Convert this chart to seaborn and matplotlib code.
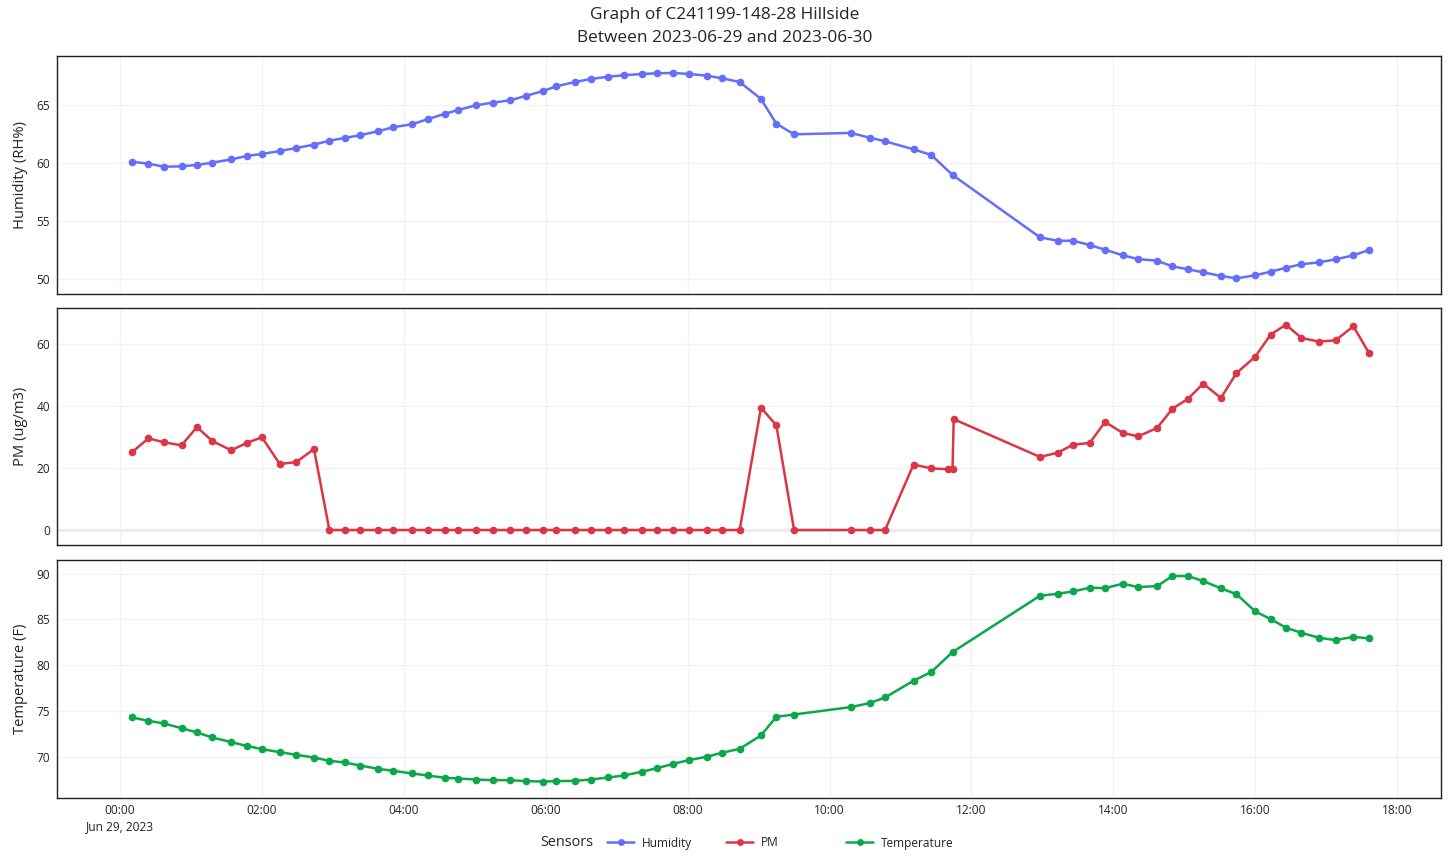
import matplotlib
matplotlib.use("Agg")
import matplotlib.pyplot as plt
import matplotlib.dates as mdates
from matplotlib.lines import Line2D
import seaborn as sns
import pandas as pd

# ---------------- data ----------------
day = "2023-06-29 "
times_main = ["00:10","00:24","00:37","00:52","01:05","01:18","01:34","01:47","02:00","02:15",
              "02:29","02:44","02:57","03:10","03:23","03:38","03:51","04:07","04:20","04:35",
              "04:46","05:01","05:15","05:30","05:43","05:58","06:09","06:25","06:38","06:53",
              "07:06","07:21","07:34","07:48","08:01","08:16","08:29","08:44","09:02","09:15",
              "09:30","10:18","10:34","10:47","11:11","11:26","11:44","12:58","13:13","13:26",
              "13:40","13:53","14:08","14:21","14:37","14:50","15:03","15:16","15:31","15:44",
              "16:00","16:13","16:26","16:39","16:54","17:08","17:23","17:36"]

humidity = [60.11,59.94,59.68,59.71,59.83,60.03,60.31,60.60,60.78,61.03,
            61.29,61.58,61.92,62.16,62.39,62.73,63.08,63.34,63.77,64.25,
            64.57,64.97,65.20,65.40,65.78,66.21,66.61,66.98,67.24,67.44,
            67.56,67.67,67.73,67.76,67.67,67.53,67.30,66.98,65.52,63.39,
            62.47,62.59,62.18,61.87,61.18,60.69,58.97,53.59,53.30,53.30,
            52.93,52.53,52.04,51.72,51.58,51.09,50.84,50.58,50.26,50.06,
            50.32,50.63,50.97,51.27,51.44,51.70,52.04,52.50]

temperature = [74.30,73.93,73.64,73.13,72.66,72.11,71.60,71.20,70.84,70.51,
               70.22,69.92,69.56,69.38,69.05,68.69,68.47,68.18,67.96,67.70,
               67.63,67.52,67.45,67.45,67.34,67.30,67.34,67.38,67.52,67.74,
               67.96,68.36,68.76,69.23,69.64,70.00,70.44,70.87,72.33,74.37,
               74.62,75.43,75.87,76.48,78.31,79.26,81.44,87.60,87.81,88.07,
               88.47,88.43,88.91,88.54,88.65,89.75,89.75,89.20,88.40,87.78,
               85.88,85.05,84.10,83.55,83.00,82.75,83.11,82.93]

times_pm = ["00:10","00:24","00:37","00:52","01:05","01:18","01:34","01:47","02:00","02:15",
            "02:29","02:44","02:57","03:10","03:23","03:38","03:51","04:07","04:20","04:35",
            "04:46","05:01","05:15","05:30","05:43","05:58","06:09","06:25","06:38","06:53",
            "07:06","07:21","07:34","07:48","08:01","08:16","08:29","08:44","09:02","09:15",
            "09:30","10:18","10:34","10:47","11:11","11:26","11:40","11:44","11:45","12:58",
            "13:13","13:26","13:40","13:53","14:08","14:21","14:37","14:50","15:03","15:16",
            "15:31","15:44","16:00","16:13","16:26","16:39","16:54","17:08","17:23","17:36"]

pm = [25.06,29.57,28.28,27.31,33.20,28.70,25.70,28.06,29.90,21.30,
      21.90,26.10,0,0,0,0,0,0,0,0,
      0,0,0,0,0,0,0,0,0,0,
      0,0,0,0,0,0,0,0,39.46,33.76,
      0,0,0,0,21.10,19.90,19.57,19.57,35.75,23.55,
      24.95,27.53,28.06,34.84,31.29,30.22,32.90,39.14,42.26,47.20,
      42.58,50.54,55.91,63.00,66.24,61.94,60.75,61.19,65.70,57.20]

series_names = ["Humidity", "PM", "Temperature"]
y_labels = ["Humidity (RH%)", "PM (ug/m3)", "Temperature (F)"]
y_ticks = [[50, 55, 60, 65], [0, 20, 40, 60], [70, 75, 80, 85, 90]]
y_limits = [(48.71, 69.22), (-4.84, 71.6), (65.5, 91.5)]
x_ticks = ["00:00","02:00","04:00","06:00","08:00","10:00","12:00","14:00","16:00","18:00"]
colors = ["#636EFA", "#DC3545", "#0AA84A"]
title = "Graph of C241199-148-28 Hillside\nBetween 2023-06-29 and 2023-06-30"
date_label = "Jun 29, 2023"
legend_title = "Sensors"

# ---------------- build frames ----------------
t_main = pd.to_datetime([day + t for t in times_main])
t_pm = pd.to_datetime([day + t for t in times_pm])
frames = [
    pd.DataFrame({"time": t_main, "value": humidity}),
    pd.DataFrame({"time": t_pm, "value": pm}),
    pd.DataFrame({"time": t_main, "value": temperature}),
]

sns.set_theme(style="white")
plt.rcParams["font.family"] = ["Open Sans", "DejaVu Sans"]
TXT = "#242424"

W, H = 1450, 857
fig = plt.figure(figsize=(W / 100, H / 100), dpi=100)

panels = [(56, 294), (308, 545), (560, 798)]
left_px, right_px = 57, 1441
x_lo = pd.Timestamp("2023-06-28 23:06:40")
x_hi = pd.Timestamp("2023-06-29 18:37:06")
tick_pos = pd.to_datetime([day + t for t in x_ticks])

axes = []
for i, (top, bot) in enumerate(panels):
    ax = fig.add_axes([left_px / W, 1 - bot / H, (right_px - left_px) / W, (bot - top) / H])
    axes.append(ax)
    sns.lineplot(data=frames[i], x="time", y="value", ax=ax, color=colors[i],
                 marker="o", markersize=5.5, markeredgewidth=0, linewidth=1.8,
                 markeredgecolor=colors[i], estimator=None, sort=False)
    ax.set_xlim(x_lo, x_hi)
    ax.set_ylim(*y_limits[i])
    ax.set_yticks(y_ticks[i])
    ax.set_xticks(tick_pos)
    ax.grid(True, color="#f2f2f2", linewidth=1)
    ax.set_axisbelow(True)
    if i == 1:
        ax.axhline(0, color="#e6e6e6", linewidth=2, zorder=0.5)
    ax.set_ylabel(y_labels[i], fontsize=10.6, color=TXT, labelpad=6)
    ax.set_xlabel("")
    ax.tick_params(axis="both", length=0, labelsize=8.6, colors=TXT, pad=5)
    for s in ax.spines.values():
        s.set_color("#222222")
        s.set_linewidth(1)
    if i < 2:
        ax.tick_params(axis="x", labelbottom=False)

def fmt(x, pos):
    d = mdates.num2date(x)
    s = d.strftime("%H:%M")
    if d.hour == 0 and d.minute == 0:
        s += "\n" + date_label
    return s

axes[2].xaxis.set_major_formatter(plt.FuncFormatter(fmt))
for lab in axes[2].get_xticklabels():
    lab.set_linespacing(1.35)
axes[2].tick_params(axis="x", pad=4)

fig.suptitle(title, y=1 - 7 / H, fontsize=12.4, color=TXT, va="top", linespacing=1.6)

# legend
fig.text(540 / W, 1 - 842 / H, legend_title, fontsize=10.4, color=TXT, va="center", ha="left")
leg_x = [607, 726, 846]
for name, c, lx in zip(series_names, colors, leg_x):
    h = Line2D([], [], color=c, marker="o", markersize=5, markeredgewidth=0, linewidth=1.8)
    fig.legend([h], [name], loc="center left", bbox_to_anchor=(lx / W, 1 - 843 / H),
               frameon=False, fontsize=8.6, handlelength=2.3, handletextpad=0.6,
               borderpad=0, borderaxespad=0, labelcolor=TXT)

fig.savefig("out.png", dpi=100, facecolor="white")
